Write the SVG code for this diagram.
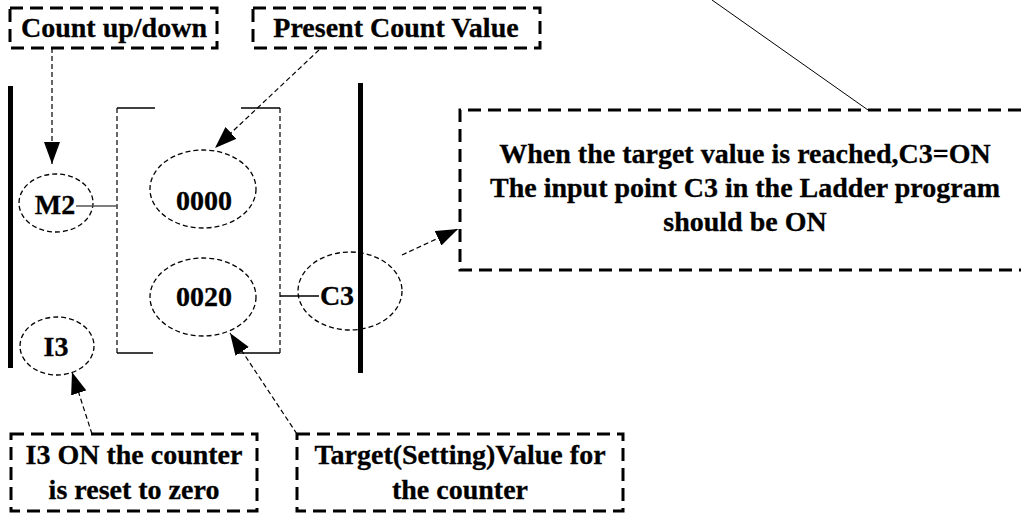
<svg xmlns="http://www.w3.org/2000/svg" width="1023" height="513" viewBox="0 0 1023 513">
<style>
text{font-family:"Liberation Serif","Times New Roman",serif;font-weight:bold;font-size:28px;fill:#000;stroke:#000;stroke-width:0.3;text-anchor:middle}
.box{fill:none;stroke:#000;stroke-width:3;stroke-dasharray:13 7}
.ell{fill:none;stroke:#000;stroke-width:1.3;stroke-dasharray:5 3}
.conn{fill:none;stroke:#000;stroke-width:1.2;stroke-dasharray:5 3}
.bar{fill:#000}
.solid{stroke:#000;stroke-width:1.3}
.gray{stroke:#555;stroke-width:1.5}
</style>
<defs>
<marker id="arr" markerUnits="userSpaceOnUse" markerWidth="24" markerHeight="16" refX="22" refY="8" orient="auto">
<path d="M0,0 L22,8 L0,16 Z" fill="#000"/>
</marker>
</defs>
<rect width="1023" height="513" fill="#fff"/>
<g id="rails">
<rect class="bar" x="8" y="86" width="5" height="282"/>
<rect class="bar" x="358" y="83" width="5" height="290"/>
</g>
<g id="counter-block">
<line x1="117" y1="108" x2="117" y2="353" class="conn"/>
<line x1="280" y1="108" x2="280" y2="353" class="conn"/>
<line x1="117" y1="108" x2="155" y2="108" class="solid"/>
<line x1="241" y1="108" x2="280" y2="108" class="solid"/>
<line x1="117" y1="353" x2="153" y2="353" class="solid"/>
<line x1="238" y1="353" x2="280" y2="353" class="solid"/>
</g>
<g id="node-m2">
<ellipse class="ell" cx="56" cy="203" rx="37" ry="29"/>
<text x="55" y="214">M2</text>
</g>
<g id="node-i3">
<ellipse class="ell" cx="57" cy="346" rx="37" ry="29"/>
<text x="56" y="356">I3</text>
</g>
<g id="node-0000">
<ellipse class="ell" cx="203" cy="189" rx="53" ry="39"/>
<text x="204" y="210">0000</text>
</g>
<g id="node-0020">
<ellipse class="ell" cx="203" cy="297" rx="53" ry="39"/>
<text x="204" y="306">0020</text>
</g>
<g id="node-c3">
<ellipse class="ell" cx="350" cy="291" rx="52" ry="39"/>
<text x="337" y="305">C3</text>
</g>
<g id="box-count">
<rect class="box" x="10" y="8" width="207" height="40"/>
<text x="114" y="37">Count up/down</text>
</g>
<g id="box-present">
<rect class="box" x="253" y="8" width="287" height="40"/>
<text x="396" y="37">Present Count Value</text>
</g>
<g id="box-target-reached">
<path class="box" d="M1021,110 H460 V270 H1021"/>
<text x="745" y="163">When the target value is reached,C3=ON</text>
<text x="745" y="197">The input point C3 in the Ladder program</text>
<text x="745" y="231">should be ON</text>
</g>
<g id="box-reset">
<rect class="box" x="11" y="434" width="246" height="77"/>
<text x="134" y="464">I3 ON the counter</text>
<text x="134" y="499">is reset to zero</text>
</g>
<g id="box-setting">
<rect class="box" x="297" y="434" width="326" height="77"/>
<text x="460" y="464">Target(Setting)Value for</text>
<text x="460" y="499">the counter</text>
</g>
<g id="connectors">
<line x1="76" y1="206" x2="117" y2="206" class="gray"/>
<line x1="280" y1="296" x2="319" y2="296" class="solid"/>
<line x1="52" y1="48" x2="52" y2="164" class="conn" marker-end="url(#arr)"/>
<line x1="319" y1="50" x2="215" y2="148" class="conn" marker-end="url(#arr)"/>
<line x1="402" y1="255" x2="458" y2="229" class="conn" marker-end="url(#arr)"/>
<line x1="92" y1="434" x2="72" y2="372" class="conn" marker-end="url(#arr)"/>
<line x1="297" y1="434" x2="230" y2="333" class="conn" marker-end="url(#arr)"/>
<line x1="712" y1="0" x2="868" y2="110" stroke="#000" stroke-width="1"/>
</g>
</svg>
